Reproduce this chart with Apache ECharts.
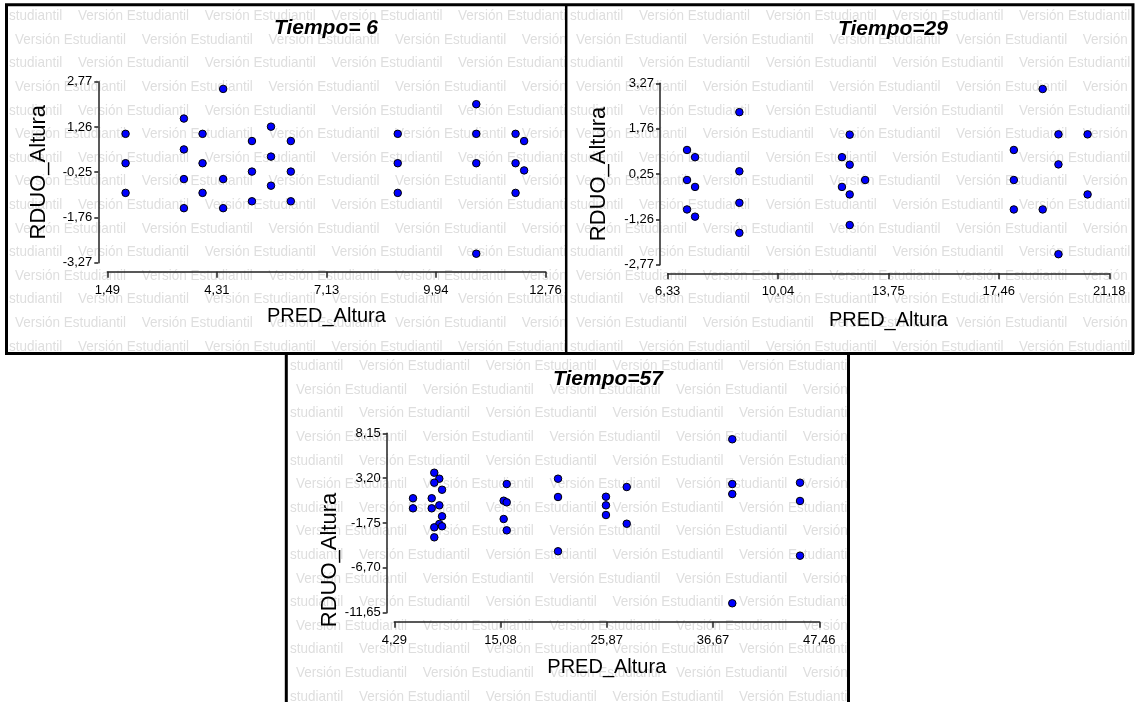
<!DOCTYPE html>
<html><head><meta charset="utf-8">
<script src="https://cdn.jsdelivr.net/npm/echarts@6/dist/echarts.min.js"></script>
<style>html,body{margin:0;padding:0;background:#fff}#c{width:1136px;height:702px}</style>
</head><body><div id="c"></div>
<script>
// ---------- data ----------
const titles = ['Tiempo= 6', 'Tiempo=29', 'Tiempo=57'];
const xName = 'PRED_Altura';
const yName = 'RDUO_Altura';
const watermark = 'Versión Estudiantil';
const watermarkTail = 'studiantil';

const xTicks6 = [1.49, 4.31, 7.13, 9.94, 12.76];
const yTicks6 = [-3.27, -1.76, -0.25, 1.26, 2.77];
const xTicks29 = [6.33, 10.04, 13.75, 17.46, 21.18];
const yTicks29 = [-2.77, -1.26, 0.25, 1.76, 3.27];
const xTicks57 = [4.29, 15.08, 25.87, 36.67, 47.46];
const yTicks57 = [-11.65, -6.70, -1.75, 3.20, 8.15];

const pred6 = [1.96,1.96,1.96, 3.46,3.46,3.46,3.46, 3.94,3.94,3.94, 4.47,4.47,4.47, 5.21,5.21,5.21, 5.70,5.70,5.70, 6.21,6.21,6.21, 8.96,8.96,8.96, 10.98,10.98,10.98,10.98, 11.99,11.99,11.99, 12.21,12.21];
const rduo6 = [1.03,0.05,-0.94, 1.54,0.51,-0.48,-1.45, 1.03,0.05,-0.94, 2.53,-0.48,-1.45, 0.79,-0.23,-1.22, 1.27,0.27,-0.70, 0.79,-0.23,-1.22, 1.03,0.05,-0.94, 2.02,1.03,0.05,-2.97, 1.03,0.05,-0.94, 0.79,-0.19];

const pred29 = [6.98,7.25,6.98,7.25,6.98,7.25, 8.74,8.74,8.74,8.74, 12.45,12.19,12.45,12.97,12.19,12.45,12.45, 18.94,19.47,20.45,17.97,19.47,17.97,20.45,17.97,18.94,19.47];
const rduo29 = [1.05,0.81,0.05,-0.18,-0.93,-1.17, 2.31,0.34,-0.71,-1.71, 1.56,0.81,0.56,0.05,-0.18,-0.43,-1.45, 3.08,1.57,1.57,1.05,0.57,0.05,-0.43,-0.93,-0.93,-2.42];

const pred57 = [6.19,6.19, 8.35,8.86,8.35,9.14,8.09,8.09,8.86,9.14,8.86,9.14,8.35,8.35, 15.71,15.40,15.71,15.40,15.71, 20.92,20.92,20.92, 25.79,25.79,25.79, 27.90,27.90, 38.62,38.62,38.62,38.62, 45.50,45.50,45.50];
const rduo57 = [0.98,-0.13, 3.80,3.14,2.70,1.92,0.98,-0.13,0.20,-1.01,-1.86,-2.11,-2.23,-3.33, 2.55,0.71,0.53,-1.31,-2.56, 3.14,1.12,-4.87, 1.15,0.20,-0.87, 2.22,-1.83, 7.49,2.55,1.45,-10.61, 2.70,0.68,-5.36];

// ---------- layout ----------
const FONT = '"Liberation Sans", Arial, sans-serif';
const panels = [
  { box: [5, 4, 561, 350], grid: { left: 107.3, top: 81.7, width: 438.2, height: 181 }, xOff: 9, yOff: 9,
    title: [326, 18], xGap: 35, yGap: 48, yPad: [0, 0, 0, 0], xs: xTicks6, ys: yTicks6, px: pred6, py: rduo6 },
  { box: [566, 4, 567, 350], grid: { left: 667.7, top: 83.3, width: 441.6, height: 181.4 }, xOff: 8.6, yOff: 7.7,
    title: [893, 19], xGap: 37, yGap: 50, yPad: [0, 0, 0, 0], xs: xTicks29, ys: yTicks29, px: pred29, py: rduo29 },
  { box: [286, 354, 562, 360], grid: { left: 394.3, top: 433.3, width: 425, height: 179.4 }, xOff: 9, yOff: 7.6,
    title: [608, 369], xGap: 36, yGap: 43, yPad: [0, 74, 0, 0], xs: xTicks57, ys: yTicks57, px: pred57, py: rduo57 }
];

const fmt = v => Number(v).toFixed(2).replace('.', ',');

const grids = [], xAxes = [], yAxes = [], series = [], titleOpts = [];
panels.forEach((p, i) => {
  grids.push(Object.assign({ outerBoundsMode: 'none', containLabel: false }, p.grid));
  titleOpts.push({
    text: titles[i], left: p.title[0], top: p.title[1], textAlign: 'center', padding: 0,
    textStyle: { fontFamily: FONT, fontSize: 21, fontWeight: 'bold', fontStyle: 'italic', color: '#000' }
  });
  xAxes.push({
    type: 'value', gridIndex: i, min: p.xs[0], max: p.xs[p.xs.length - 1], offset: p.xOff,
    name: xName, nameLocation: 'middle', nameGap: p.xGap,
    nameTextStyle: { fontFamily: FONT, fontSize: 20, color: '#000' },
    axisLine: { show: true, onZero: false, lineStyle: { color: '#222', width: 1.5 } },
    axisTick: { show: true, length: 6, customValues: p.xs, lineStyle: { color: '#222', width: 1.5 } },
    axisLabel: { customValues: p.xs, margin: 12, fontFamily: FONT, fontSize: 13, color: '#000', formatter: fmt,
      showMinLabel: true, showMaxLabel: true },
    splitLine: { show: false }
  });
  yAxes.push({
    type: 'value', gridIndex: i, min: p.ys[0], max: p.ys[p.ys.length - 1], offset: p.yOff,
    name: yName, nameLocation: 'middle', nameGap: p.yGap, nameRotate: 90,
    nameTextStyle: { fontFamily: FONT, fontSize: 22, color: '#000', padding: p.yPad },
    axisLine: { show: true, onZero: false, lineStyle: { color: '#222', width: 1.5 } },
    axisTick: { show: true, length: 4, customValues: p.ys, lineStyle: { color: '#222', width: 1.5 } },
    axisLabel: { customValues: p.ys, margin: 6, fontFamily: FONT, fontSize: 13, color: '#000', formatter: fmt,
      showMinLabel: true, showMaxLabel: true },
    splitLine: { show: false }
  });
  series.push({
    type: 'scatter', xAxisIndex: i, yAxisIndex: i, symbol: 'circle', symbolSize: 7.5,
    itemStyle: { color: '#0000ff', borderColor: '#000', borderWidth: 1, opacity: 1 },
    data: p.px.map((x, k) => [x, p.py[k]]), z: 5
  });
});

// ---------- watermark & frames ----------
const WM_SIZE = 15, WM_SX = 0.9, WM_COLOR = '#dedede';
const WM_FONT = WM_SIZE + 'px ' + FONT;
const mc = document.createElement('canvas').getContext('2d');
mc.font = WM_FONT;
const unitW = mc.measureText(watermark).width * WM_SX;
const graphics = [];
function addWatermark(p, z) {
  const [L, T, W, H] = p.box;
  for (let n = 0; ; n++) {
    const y = T + 12 + 23.6 * n;
    if (y > T + H + 10) break;
    const start = L + (n % 2 === 0 ? 73 : 10);
    for (let k = -1; ; k++) {
      const x0 = start + 126.7 * k;
      if (x0 > L + W) break;
      if (x0 + unitW <= L + 2) continue;
      if (x0 < L) {
        graphics.push({ type: 'text', x: x0 + unitW, y: y, scaleX: WM_SX, z: z, silent: true,
          style: { text: watermarkTail, font: WM_FONT, fill: WM_COLOR, align: 'right', verticalAlign: 'middle' } });
      } else {
        graphics.push({ type: 'text', x: x0, y: y, scaleX: WM_SX, z: z, silent: true,
          style: { text: watermark, font: WM_FONT, fill: WM_COLOR, align: 'left', verticalAlign: 'middle' } });
      }
    }
  }
}
function whiteRect(x, y, w, h, z) {
  graphics.push({ type: 'rect', shape: { x, y, width: w, height: h }, z, silent: true, style: { fill: '#fff' } });
}
addWatermark(panels[0], -7);
whiteRect(566, 4, 570, 350, -6);
addWatermark(panels[1], -5);
whiteRect(286, 354, 562, 360, -4);
addWatermark(panels[2], -3);
// masks outside the frames
whiteRect(0, 0, 1136, 4, -1);
whiteRect(0, 0, 5, 354, -1);
whiteRect(1133, 0, 10, 354, -1);
whiteRect(0, 354, 286, 360, -1);
whiteRect(848, 354, 300, 360, -1);
// frames
graphics.push({ type: 'polyline', z: 20, silent: true, shape: { points: [[6.5, 354], [6.5, 4.8], [1133, 4.8], [1133, 354]] }, style: { stroke: '#000', lineWidth: 3, fill: 'none' } });
graphics.push({ type: 'line', z: 20, silent: true, shape: { x1: 5, y1: 353.6, x2: 1134, y2: 353.6 }, style: { stroke: '#000', lineWidth: 3 } });
graphics.push({ type: 'line', z: 20, silent: true, shape: { x1: 566.2, y1: 4, x2: 566.2, y2: 354 }, style: { stroke: '#000', lineWidth: 2.5 } });
graphics.push({ type: 'line', z: 20, silent: true, shape: { x1: 286.3, y1: 353, x2: 286.3, y2: 705 }, style: { stroke: '#000', lineWidth: 3 } });
graphics.push({ type: 'line', z: 20, silent: true, shape: { x1: 848.5, y1: 353, x2: 848.5, y2: 705 }, style: { stroke: '#000', lineWidth: 3 } });

const chart = echarts.init(document.getElementById('c'), null, { renderer: 'canvas' });
chart.setOption({
  animation: false,
  backgroundColor: '#fff',
  title: titleOpts,
  grid: grids,
  xAxis: xAxes,
  yAxis: yAxes,
  series: series,
  graphic: { elements: graphics }
});
</script>
</body></html>
